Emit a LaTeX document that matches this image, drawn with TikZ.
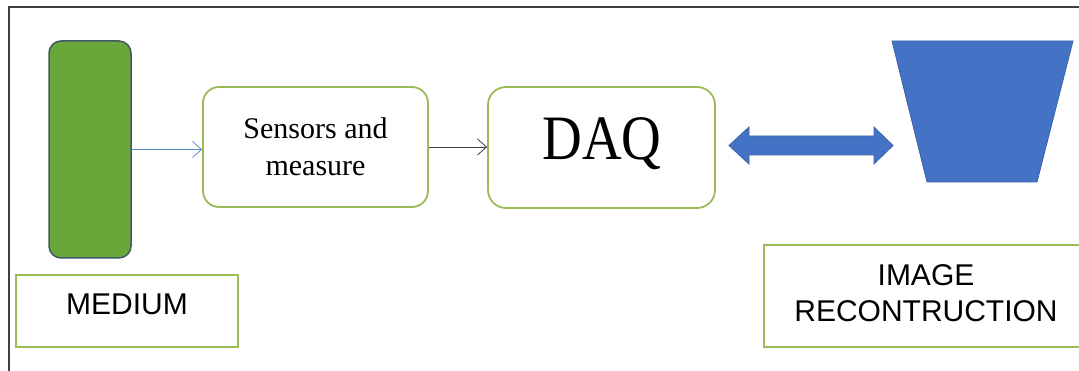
\documentclass[tikz,border=0pt]{standalone}
\usepackage{fontspec}
\setmainfont{Liberation Serif}
\setsansfont{Liberation Sans}
\usetikzlibrary{arrows.meta}
\definecolor{boxgreen}{HTML}{9BBB59}
\definecolor{medfill}{HTML}{6AA73A}
\definecolor{medline}{HTML}{3E5B66}
\definecolor{blockblue}{HTML}{4472C4}
\definecolor{blockline}{HTML}{3A62AA}
\definecolor{thinblue}{HTML}{5B8FC9}
\definecolor{framegray}{HTML}{404040}
\begin{document}
\begin{tikzpicture}[x=1pt,y=-1pt,
  frameline/.style={draw=framegray,line width=1.8pt},
  greenbox/.style={draw=boxgreen,line width=1.8pt,fill=white,inner sep=0pt,align=center},
  labelbox/.style={draw=boxgreen,line width=1.8pt,fill=white,inner sep=0pt,align=center,font=\sffamily\fontsize{30}{36}\selectfont},
  medbar/.style={draw=medline,line width=1.5pt,fill=medfill,rounded corners=12pt,inner sep=0pt},
  conn/.style={line width=0.8pt,-{Straight Barb[length=9pt,width=16pt,line width=0.8pt]}},
  block/.style={fill=blockblue,draw=blockline,line width=0.8pt}
]
\useasboundingbox (0,0) rectangle (1079,371);
\draw[frameline] (9,372) -- (9,7) -- (1080,7);

% medium bar
\node[medbar,minimum width=82pt,minimum height=217pt] (medium) at (90,149.5) {};
% MEDIUM label box
\node[labelbox,minimum width=222pt,minimum height=72pt] (medlabel) at (127,311) {};
\node[font=\sffamily\fontsize{30}{36}\selectfont,inner sep=0pt,anchor=base] (medtext) at (127,315) {MEDIUM};

% sensors box
\node[greenbox,rounded corners=16pt,minimum width=225pt,minimum height=120pt,
  font=\fontsize{30}{37}\selectfont] (sens) at (315.5,147) {Sensors and\\measure};

% DAQ box
\node[greenbox,rounded corners=18pt,minimum width=227pt,minimum height=121pt] (daq) at (601.5,147.5) {};
\node[inner sep=0pt,anchor=base,font=\fontsize{55}{60}\selectfont,yscale=1.15] (daqtext) at (602,160) {DAQ};

% connectors
\draw[conn,draw=thinblue] (medium.east) -- (medium.east -| sens.west);
\draw[conn,draw=framegray] (sens.east) -- (sens.east -| daq.west);

% double block arrow
\draw[block] (729,145.5) -- (749,127) -- (749,136) -- (874,136) -- (874,127) -- (893,145.5)
  -- (874,164) -- (874,155) -- (749,155) -- (749,164) -- cycle;

% trapezoid
\draw[block] (892,41) -- (1073,41) -- (1037,182) -- (927,182) -- cycle;

% IMAGE RECONTRUCTION box
\node[labelbox,minimum width=324pt,minimum height=102pt] (imglabel) at (926,296) {};
\node[font=\sffamily\fontsize{30}{36}\selectfont,inner sep=0pt,align=center] (imgtext) at (926,293) {IMAGE\\RECONTRUCTION};
\end{tikzpicture}
\end{document}
